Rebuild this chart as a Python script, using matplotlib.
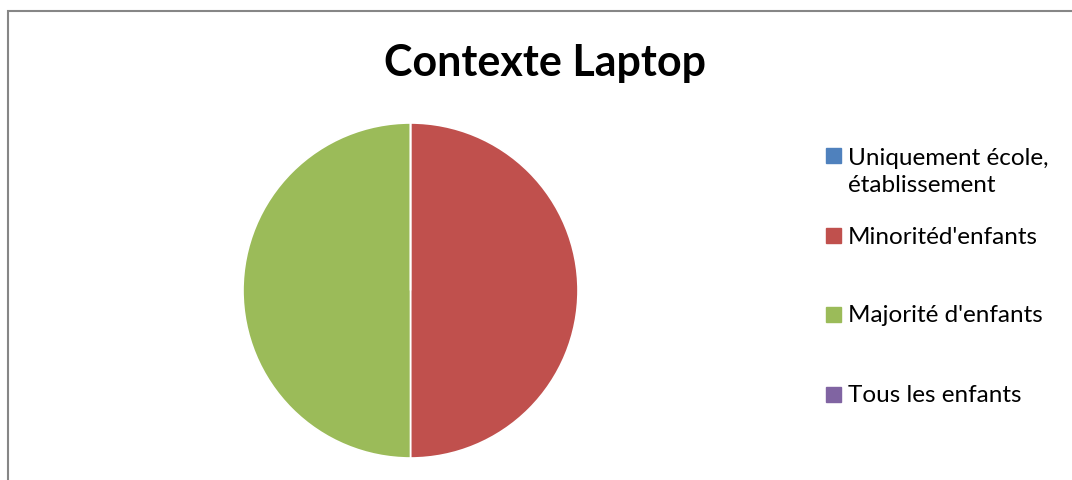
import matplotlib.pyplot as plt
from matplotlib.patches import Rectangle

title = 'Contexte Laptop'
labels = ['Uniquement école,\nétablissement', "Minoritéd'enfants",
          "Majorité d'enfants", 'Tous les enfants']
values = [0, 1, 1, 0]
colors = ['#4F81BD', '#C0504D', '#9BBB59', '#8064A2']

W, H = 1072, 480
plt.rcParams['font.family'] = ['Lato', 'DejaVu Sans']

fig = plt.figure(figsize=(W / 100, H / 100), dpi=100)

# chart area border (extends beyond the picture on right and bottom)
fig.add_artist(Rectangle((7.5 / W, -0.1), 1.2, (H - 11) / H + 0.1,
                         transform=fig.transFigure, fill=False,
                         edgecolor='#868686', linewidth=1.5))

# pie placed so its centre/radius match the reference
cx, cy, r = 410.5, 290.5, 167.5
ax = fig.add_axes([(cx - r) / W, (H - cy - r) / H, 2 * r / W, 2 * r / H])
wedges, _ = ax.pie(values, colors=colors, startangle=90, counterclock=False,
                   wedgeprops=dict(edgecolor='white', linewidth=1.2))
ax.set_xlim(-1, 1)
ax.set_ylim(-1, 1)
ax.axis('off')

fig.text(545 / W, 1 - 63 / H, title, ha='center', va='center',
         fontsize=31, fontweight='bold')

# legend, laid out like the Excel one
box_y = [155, 235, 314, 394]
text_y = [172, 237, 316, 396]
for lab, col, yb, yt in zip(labels, colors, box_y, text_y):
    fig.add_artist(Rectangle((826 / W, 1 - (yb + 7.5) / H), 15 / W, 15 / H,
                             transform=fig.transFigure, color=col))
    fig.text(848 / W, 1 - yt / H, lab, ha='left', va='center',
             fontsize=17.5, linespacing=1.32)

fig.savefig('out.png', dpi=100)
